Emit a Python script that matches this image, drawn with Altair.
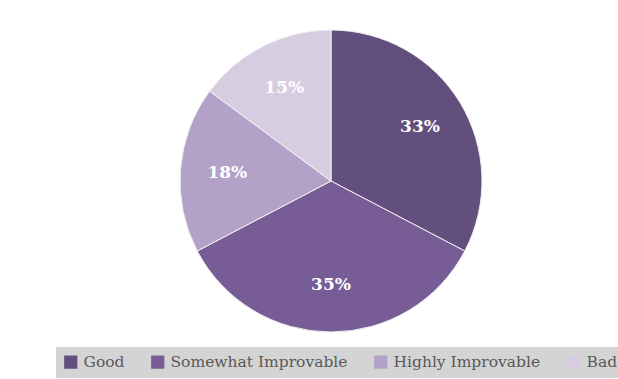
import altair as alt
import pandas as pd

categories = ["Good", "Somewhat Improvable", "Highly Improvable", "Bad"]
values = [33, 35, 18, 15]
labels = ["33%", "35%", "18%", "15%"]
colors = ["#634f7d", "#775c96", "#b3a2c7", "#d6cde1"]

df = pd.DataFrame({"category": categories, "value": values, "label": labels,
                   "order": list(range(len(categories)))})

cx, cy = 331, 181

base = alt.Chart(df).encode(
    theta=alt.Theta("value:Q", stack=True),
    order=alt.Order("order:Q"),
)

pie = base.mark_arc(outerRadius=151, stroke="#f2f2f2", strokeWidth=1, x=cx, y=cy).encode(
    color=alt.Color(
        "category:N",
        scale=alt.Scale(domain=categories, range=colors),
        sort=categories,
        legend=alt.Legend(
            title=None,
            orient="none",
            legendX=56,
            legendY=347,
            direction="horizontal",
            symbolType="square",
            symbolSize=175,
            symbolStrokeWidth=0,
            symbolOpacity=1,
            labelFont="DejaVu Serif",
            labelFontSize=15.5,
            labelColor="#595959",
            labelOffset=5,
            columnPadding=25,
            fillColor="#d4d4d4",
            padding=7,
            labelLimit=400,
        ),
    )
)

text = base.mark_text(radius=104, font="DejaVu Serif", fontSize=17, fontWeight="bold",
                      color="white", x=cx, y=cy).encode(text="label:N")

chart = (pie + text).properties(
    width=618, height=379, padding=0,
    autosize=alt.AutoSizeParams(type="none"),
).configure_view(stroke=None).configure(background="white")

chart.save("out.html", embed_options={"renderer": "svg", "actions": False})
